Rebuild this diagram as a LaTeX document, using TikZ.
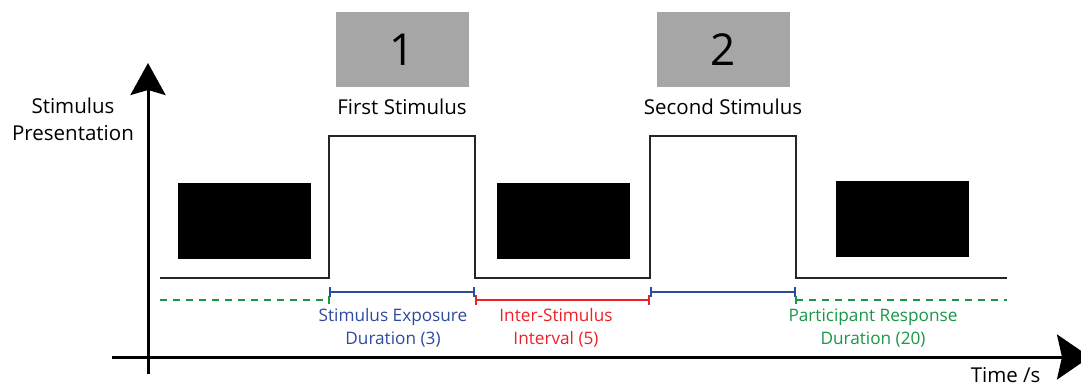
\documentclass[tikz,border=0pt]{standalone}
\usepackage{fontspec}
\setmainfont{Open Sans}
\usetikzlibrary{arrows.meta,positioning}
\definecolor{expblue}{RGB}{46,74,158}
\definecolor{isired}{RGB}{237,32,40}
\definecolor{respgreen}{RGB}{26,150,72}
\definecolor{stimgrey}{RGB}{166,166,166}
\tikzset{blackout/.style={fill=black,draw=none,minimum width=133pt,minimum height=76pt,inner sep=0pt},
         stimcard/.style={fill=stimgrey,draw=none,minimum width=133pt,minimum height=75pt,
                          inner sep=0pt,font=\fontsize{44}{44}\selectfont},
         caption/.style={font=\fontsize{20.5}{27}\selectfont,align=center},
         phase/.style={font=\fontsize{17.2}{23}\selectfont,align=center},
         bar/.style={line width=2pt,{Bar[width=10pt]}-{Bar[width=10pt]}},
         waitbar/.style={line width=2pt,dash pattern=on 7pt off 6pt,color=respgreen},
         axis/.style={line width=3pt},
         trace/.style={line width=2pt,color=black!85,line join=miter}}
\begin{document}
\begin{tikzpicture}[x=1pt,y=-1pt]
  \useasboundingbox (0,0) rectangle (1081,387);
  % axes
  \coordinate (yfoot) at (148,374);
  \coordinate (ytip) at (148,63);
  \coordinate (xfoot) at (112,357);
  \coordinate (xtip) at (1090,357);
  \draw[axis,-{Stealth[length=32pt,width=35pt,inset=5pt]}] (yfoot) -- (ytip);
  \draw[axis,-{Stealth[length=33pt,width=45pt,inset=5pt]}] (xfoot) -- (xtip);
  \node[caption] (ylabel) at (73,119) {Stimulus\\Presentation};
  \node[caption,anchor=east] (xlabel) at (1044,375) {Time /s};
  % blank screens
  \node[blackout] (blank1) at (244.5,221) {};
  \node[blackout] (blank2) at (563,221) {};
  \node[blackout] (blank3) at (902,219) {};
  % stimuli
  \node[stimcard] (card1) at (402.5,49.5) {1};
  \node[stimcard] (card2) at (723,49.5) {2};
  \node[caption] (first) at (402,107) {First Stimulus};
  \node[caption] (second) at (723,107) {Second Stimulus};
  % presentation trace
  \coordinate (t0) at (160,278);
  \coordinate (t1) at (329,278);
  \coordinate (t2) at (329,136);
  \coordinate (t3) at (475,136);
  \coordinate (t4) at (475,278);
  \coordinate (t5) at (650,278);
  \coordinate (t6) at (650,136);
  \coordinate (t7) at (796,136);
  \coordinate (t8) at (796,278);
  \coordinate (t9) at (1007,278);
  \draw[trace] (t0) -- (t1) -- (t2) -- (t3) -- (t4) -- (t5) -- (t6) -- (t7) -- (t8) -- (t9);
  % durations
  \coordinate (w0) at (160,300);
  \coordinate (w1) at (329,300);
  \coordinate (e0) at (329,292);
  \coordinate (e1) at (475,292);
  \coordinate (i0) at (475,300);
  \coordinate (i1) at (650,300);
  \coordinate (f0) at (650,292);
  \coordinate (f1) at (796,292);
  \coordinate (r0) at (796,300);
  \coordinate (r1) at (1007,300);
  \draw[waitbar] (w0) -- (w1);
  \draw[respgreen,line width=2pt] ([yshift=-4pt]w1) -- ([yshift=4pt]w1);
  \draw[bar,expblue] (e0) -- (e1);
  \draw[bar,isired] (i0) -- (i1);
  \draw[bar,expblue] (f0) -- (f1);
  \draw[waitbar] (r0) -- (r1);
  \draw[respgreen,line width=2pt] ([yshift=-4pt]r0) -- ([yshift=4pt]r0);
  \node[phase,text=expblue] (exposure) at (393,328) {Stimulus Exposure\\Duration (3)};
  \node[phase,text=isired] (isi) at (556,328) {Inter-Stimulus\\Interval (5)};
  \node[phase,text=respgreen] (response) at (873,328) {Participant Response\\Duration (20)};
\end{tikzpicture}
\end{document}
